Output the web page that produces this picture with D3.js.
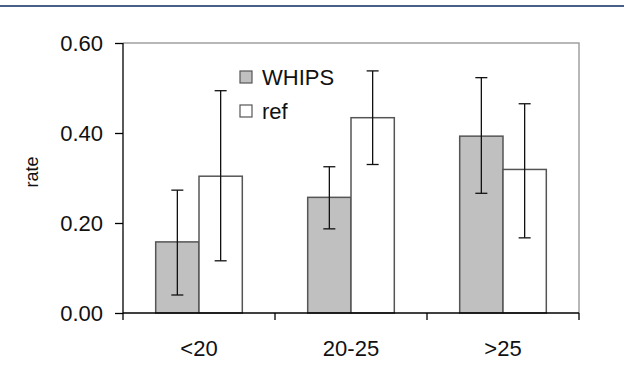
<!DOCTYPE html>
<html>
<head>
<meta charset="utf-8">
<script src="https://cdn.jsdelivr.net/npm/d3@7.9.0/dist/d3.min.js"></script>
<style>
  html, body { margin: 0; padding: 0; background: #fff; }
  svg { display: block; font-family: Arial, "Liberation Sans", sans-serif; }
</style>
</head>
<body>
<svg width="624" height="367"></svg>
<script>
const categories = ['<20', '20-25', '>25'];
const seriesNames = ['WHIPS', 'ref'];
const whipsRate = [0.158, 0.257, 0.393];
const whipsLow = [0.040, 0.187, 0.266];
const whipsHigh = [0.273, 0.325, 0.523];
const refRate = [0.304, 0.434, 0.319];
const refLow = [0.116, 0.330, 0.167];
const refHigh = [0.494, 0.538, 0.465];
const yTicks = [0, 0.2, 0.4, 0.6];

const fills = { WHIPS: '#c0c0c0', ref: '#ffffff' };

const svg = d3.select('svg');

// blue rule across the top
svg.append('rect')
  .attr('x', 0).attr('y', 5)
  .attr('width', 624).attr('height', 2)
  .attr('fill', '#466089');

const plotLeft = 123, plotRight = 579, plotTop = 43, plotBottom = 313;

const x = d3.scaleBand().domain(categories).range([plotLeft, plotRight]).paddingInner(0).paddingOuter(0);
const xSub = d3.scaleBand().domain(seriesNames).range([0, x.bandwidth()]).paddingInner(0).paddingOuter(0.755);
const y = d3.scaleLinear().domain([0, 0.6]).range([plotBottom, plotTop]);

// plot frame (top and right in grey)
svg.append('path')
  .attr('d', `M${plotLeft},${plotTop}H${plotRight}V${plotBottom}`)
  .attr('fill', 'none')
  .attr('stroke', '#a0a0a0')
  .attr('stroke-width', 1.5);

const data = categories.map((c, i) => [
  { cat: c, name: 'WHIPS', v: whipsRate[i], lo: whipsLow[i], hi: whipsHigh[i] },
  { cat: c, name: 'ref', v: refRate[i], lo: refLow[i], hi: refHigh[i] },
]).flat();

svg.append('g')
  .selectAll('rect')
  .data(data)
  .join('rect')
  .attr('x', (d) => x(d.cat) + xSub(d.name))
  .attr('y', (d) => y(d.v))
  .attr('width', xSub.bandwidth())
  .attr('height', (d) => y(0) - y(d.v))
  .attr('fill', (d) => fills[d.name])
  .attr('stroke', '#555')
  .attr('stroke-width', 1.5);

// error bars
const err = svg.append('g').attr('stroke', '#111').attr('stroke-width', 1.3);
data.forEach((d) => {
  const cx = x(d.cat) + xSub(d.name) + xSub.bandwidth() / 2;
  err.append('line').attr('x1', cx).attr('x2', cx).attr('y1', y(d.lo)).attr('y2', y(d.hi));
  err.append('line').attr('x1', cx - 6).attr('x2', cx + 6).attr('y1', y(d.lo)).attr('y2', y(d.lo));
  err.append('line').attr('x1', cx - 6).attr('x2', cx + 6).attr('y1', y(d.hi)).attr('y2', y(d.hi));
});

// y axis
const yAxis = svg.append('g')
  .attr('transform', `translate(${plotLeft},0)`)
  .call(d3.axisLeft(y).tickValues(yTicks).tickFormat(d3.format('.2f')).tickSize(8).tickPadding(12));
yAxis.select('.domain').attr('stroke', '#000').attr('stroke-width', 1.3).attr('d', `M0,${plotTop}V${plotBottom}`);
yAxis.selectAll('.tick line').attr('stroke', '#000').attr('stroke-width', 1.3);
yAxis.selectAll('.tick text').attr('font-size', 22).attr('fill', '#111').attr('font-family', 'Arial, "Liberation Sans", sans-serif');

// x axis: ticks at category boundaries
const xAxis = svg.append('g').attr('transform', `translate(0,${plotBottom})`);
xAxis.append('line').attr('x1', plotLeft).attr('x2', plotRight).attr('stroke', '#000').attr('stroke-width', 1.3);
const bounds = categories.map((c) => x(c)).concat([x(categories[categories.length - 1]) + x.bandwidth()]);
xAxis.selectAll('line.tk')
  .data(bounds)
  .join('line')
  .attr('class', 'tk')
  .attr('x1', (d) => d).attr('x2', (d) => d)
  .attr('y1', 0).attr('y2', 7)
  .attr('stroke', '#000').attr('stroke-width', 1.3);
xAxis.selectAll('text')
  .data(categories)
  .join('text')
  .attr('x', (d) => x(d) + x.bandwidth() / 2)
  .attr('y', 43)
  .attr('text-anchor', 'middle')
  .attr('font-size', 22)
  .attr('fill', '#111')
  .text((d) => d);

// y label
svg.append('text')
  .attr('transform', 'translate(38,172) rotate(-90)')
  .attr('text-anchor', 'middle')
  .attr('font-size', 18)
  .attr('fill', '#111')
  .text('rate');

// legend
const legend = svg.append('g').attr('transform', 'translate(240,71)');
seriesNames.forEach((name, i) => {
  const g = legend.append('g').attr('transform', `translate(0,${i * 34})`);
  g.append('rect')
    .attr('width', 12).attr('height', 12)
    .attr('fill', fills[name])
    .attr('stroke', '#555').attr('stroke-width', 1.2);
  g.append('text')
    .attr('x', 22).attr('y', 14)
    .attr('font-size', 22)
    .attr('fill', '#111')
    .text(name);
});
</script>
</body>
</html>
